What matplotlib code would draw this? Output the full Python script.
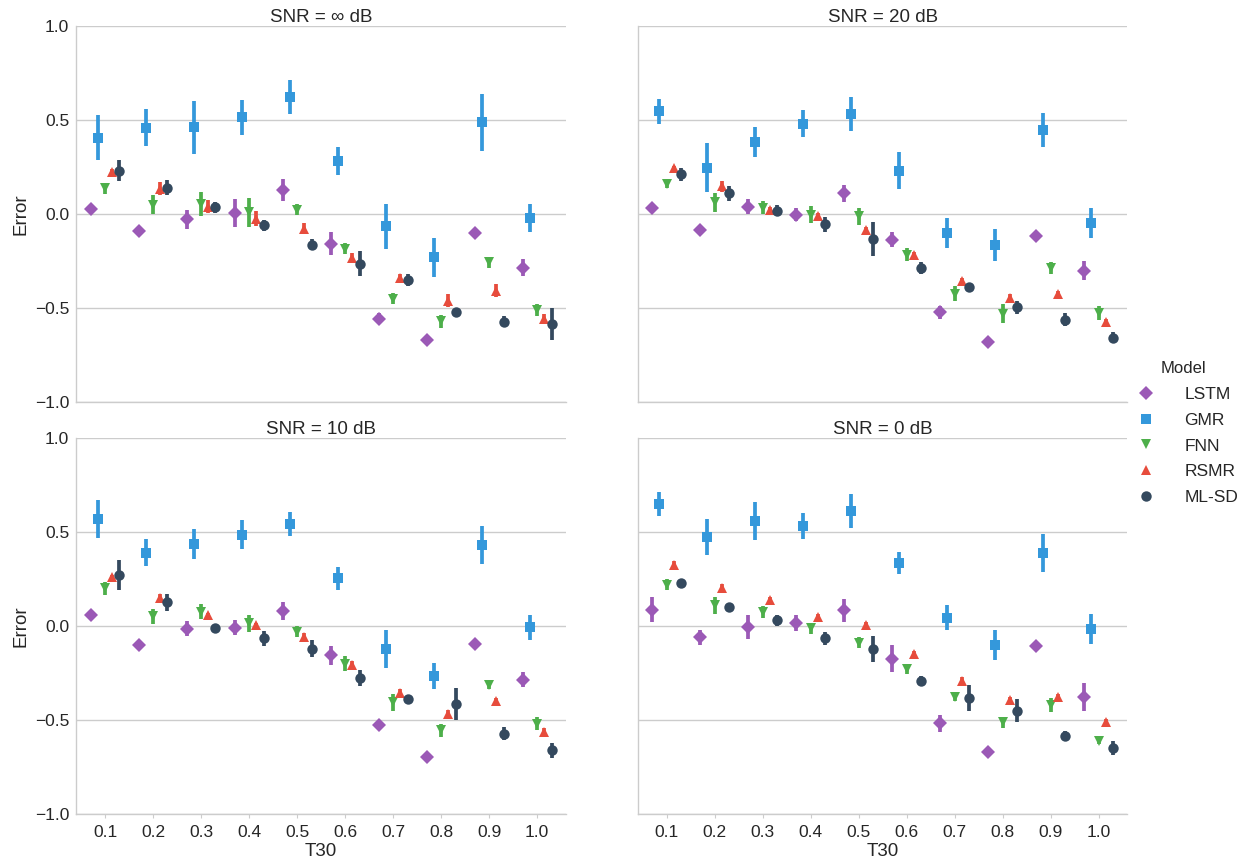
import matplotlib
matplotlib.use('Agg')
import matplotlib.pyplot as plt
from matplotlib.lines import Line2D
import numpy as np

plt.rcParams['font.family'] = ['Liberation Sans', 'DejaVu Sans']

t30 = ['0.1', '0.2', '0.3', '0.4', '0.5', '0.6', '0.7', '0.8', '0.9', '1.0']
models = ['LSTM', 'GMR', 'FNN', 'RSMR', 'ML-SD']
titles = ['SNR = \u221e dB', 'SNR = 20 dB', 'SNR = 10 dB', 'SNR = 0 dB']

colors = ['#9b59b6', '#3498db', '#4daf4a', '#e74c3c', '#34495e']
markers = ['D', 's', 'v', '^', 'o']

# mean error, rows = models (LSTM, GMR, FNN, RSMR, ML-SD)
snr_inf = [
    [0.028, -0.092, -0.027, 0.005, 0.129, -0.157, -0.555, -0.670, -0.100, -0.286],
    [0.405, 0.460, 0.461, 0.514, 0.620, 0.281, -0.065, -0.230, 0.488, -0.021],
    [0.138, 0.050, 0.053, 0.009, 0.023, -0.184, -0.450, -0.569, -0.256, -0.510],
    [0.226, 0.134, 0.040, -0.025, -0.078, -0.233, -0.339, -0.460, -0.406, -0.555],
    [0.230, 0.141, 0.037, -0.060, -0.163, -0.263, -0.350, -0.518, -0.572, -0.583],
]
snr_inf_ci = [
    [0.01, 0.01, 0.05, 0.075, 0.06, 0.06, 0.03, 0.01, 0.01, 0.045],
    [0.12, 0.10, 0.14, 0.095, 0.09, 0.075, 0.12, 0.105, 0.15, 0.075],
    [0.03, 0.05, 0.065, 0.075, 0.03, 0.03, 0.03, 0.035, 0.03, 0.03],
    [0.015, 0.035, 0.035, 0.04, 0.03, 0.025, 0.02, 0.035, 0.035, 0.025],
    [0.055, 0.04, 0.03, 0.03, 0.03, 0.065, 0.03, 0.01, 0.03, 0.085],
]

snr_20 = [
    [0.035, -0.083, 0.040, -0.004, 0.111, -0.136, -0.521, -0.680, -0.115, -0.300],
    [0.546, 0.247, 0.382, 0.481, 0.532, 0.231, -0.100, -0.166, 0.447, -0.048],
    [0.161, 0.062, 0.035, -0.004, -0.012, -0.216, -0.422, -0.528, -0.286, -0.525],
    [0.247, 0.147, 0.023, -0.009, -0.083, -0.216, -0.357, -0.445, -0.422, -0.572],
    [0.212, 0.111, 0.018, -0.055, -0.133, -0.286, -0.389, -0.495, -0.560, -0.657],
]
snr_20_ci = [
    [0.01, 0.01, 0.04, 0.035, 0.045, 0.04, 0.035, 0.01, 0.01, 0.05],
    [0.065, 0.13, 0.08, 0.07, 0.09, 0.10, 0.08, 0.085, 0.09, 0.08],
    [0.02, 0.05, 0.035, 0.045, 0.045, 0.035, 0.04, 0.05, 0.03, 0.035],
    [0.01, 0.03, 0.015, 0.015, 0.015, 0.015, 0.02, 0.02, 0.015, 0.015],
    [0.035, 0.04, 0.03, 0.04, 0.09, 0.03, 0.025, 0.035, 0.035, 0.03],
]

snr_10 = [
    [0.059, -0.100, -0.014, -0.009, 0.080, -0.155, -0.527, -0.698, -0.098, -0.286],
    [0.570, 0.390, 0.434, 0.486, 0.543, 0.253, -0.121, -0.267, 0.429, -0.007],
    [0.200, 0.053, 0.075, 0.014, -0.030, -0.200, -0.406, -0.555, -0.315, -0.520],
    [0.263, 0.151, 0.059, 0.005, -0.057, -0.208, -0.356, -0.466, -0.400, -0.564],
    [0.272, 0.126, -0.012, -0.064, -0.120, -0.276, -0.386, -0.413, -0.571, -0.660],
]
snr_10_ci = [
    [0.01, 0.01, 0.04, 0.04, 0.05, 0.05, 0.015, 0.01, 0.01, 0.04],
    [0.10, 0.07, 0.08, 0.075, 0.065, 0.06, 0.10, 0.07, 0.10, 0.065],
    [0.035, 0.04, 0.04, 0.045, 0.03, 0.04, 0.045, 0.035, 0.02, 0.035],
    [0.01, 0.02, 0.01, 0.01, 0.02, 0.02, 0.02, 0.02, 0.02, 0.02],
    [0.08, 0.045, 0.01, 0.04, 0.045, 0.04, 0.02, 0.085, 0.035, 0.04],
]

snr_0 = [
    [0.087, -0.059, -0.004, 0.016, 0.084, -0.173, -0.516, -0.671, -0.107, -0.379],
    [0.648, 0.475, 0.559, 0.530, 0.612, 0.335, 0.045, -0.103, 0.388, -0.014],
    [0.219, 0.110, 0.075, -0.012, -0.089, -0.228, -0.377, -0.512, -0.420, -0.609],
    [0.326, 0.203, 0.137, 0.050, 0.005, -0.146, -0.292, -0.391, -0.375, -0.510],
    [0.226, 0.100, 0.030, -0.066, -0.121, -0.290, -0.381, -0.450, -0.582, -0.648],
]
snr_0_ci = [
    [0.065, 0.04, 0.065, 0.045, 0.06, 0.07, 0.045, 0.025, 0.01, 0.075],
    [0.065, 0.095, 0.10, 0.07, 0.09, 0.06, 0.065, 0.08, 0.10, 0.08],
    [0.03, 0.045, 0.03, 0.03, 0.03, 0.025, 0.02, 0.03, 0.035, 0.02],
    [0.02, 0.02, 0.015, 0.015, 0.015, 0.015, 0.02, 0.015, 0.015, 0.015],
    [0.02, 0.025, 0.03, 0.035, 0.07, 0.025, 0.07, 0.06, 0.025, 0.035],
]

panels = [(snr_inf, snr_inf_ci), (snr_20, snr_20_ci),
          (snr_10, snr_10_ci), (snr_0, snr_0_ci)]

fig = plt.figure(figsize=(12.42, 8.61), dpi=100)
ax_w = 0.3943
ax_h = 0.4372
boxes = [(0.0614, 0.5327), (0.5135, 0.5327), (0.0614, 0.0543), (0.5135, 0.0543)]

x = np.arange(len(t30))
dodge = 0.6
offsets = np.linspace(0, dodge, len(models)) - dodge / 2
grid_c = '#cccccc'

for k, (means, cis) in enumerate(panels):
    ax = fig.add_axes([boxes[k][0], boxes[k][1], ax_w, ax_h])
    for m in range(len(models)):
        ax.errorbar(x + offsets[m], means[m], yerr=cis[m], fmt=markers[m],
                    color=colors[m], ms=7.5, mec=colors[m], mew=0,
                    elinewidth=2.7, capsize=0, zorder=3)
    ax.set_xlim(-0.6, 9.6)
    ax.set_ylim(-1.0, 1.0)
    ax.set_yticks([-1.0, -0.5, 0.0, 0.5, 1.0])
    ax.set_xticks(x)
    ax.grid(axis='y', color=grid_c, lw=1)
    ax.set_axisbelow(True)
    for s in ['top', 'right']:
        ax.spines[s].set_visible(False)
    for s in ['left', 'bottom']:
        ax.spines[s].set_color(grid_c)
        ax.spines[s].set_linewidth(1)
    ax.tick_params(axis='y', length=0, labelsize=12.5, colors='#262626', pad=5)
    ax.tick_params(axis='x', length=3, color=grid_c, labelsize=12.5,
                   colors='#262626', pad=5)
    ax.tick_params(axis='x', color=grid_c)
    ax.set_title(titles[k], fontsize=13.5, color='#262626', pad=3)
    if k < 2:
        ax.set_xticklabels([])
        ax.tick_params(axis='x', length=0)
    else:
        ax.set_xticklabels(t30)
        ax.set_xlabel('T30', fontsize=13.5, color='#262626', labelpad=2)
    if k % 2 == 0:
        ax.set_ylabel('Error', fontsize=13.5, color='#262626', labelpad=4)
    else:
        ax.set_yticklabels([])

handles = [Line2D([], [], ls='none', marker=markers[m], color=colors[m],
                  ms=7.5, mew=0) for m in range(len(models))]
leg = fig.legend(handles, models, title='Model', loc='center left',
                 bbox_to_anchor=(0.906, 0.497), frameon=False, fontsize=12.5,
                 title_fontsize=12, handletextpad=1.2, labelspacing=0.62,
                 borderaxespad=0, borderpad=0.2)
for t in leg.get_texts():
    t.set_color('#262626')
leg.get_title().set_color('#262626')

fig.savefig('out.png', dpi=100)
